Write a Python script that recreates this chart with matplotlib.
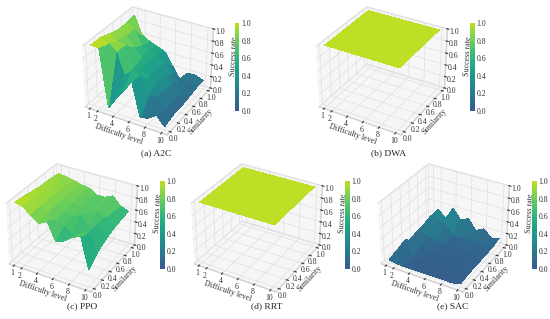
import matplotlib

matplotlib.use("Agg")
import matplotlib.pyplot as plt
import numpy as np
from matplotlib.cm import ScalarMappable
from matplotlib.colors import LinearSegmentedColormap, Normalize

plt.rcParams["font.family"] = ["Liberation Serif", "DejaVu Serif"]

# Axis values
difficulty = [1, 2, 3, 4, 5, 6, 7, 8, 9, 10]
similarity = [0.0, 0.2, 0.4, 0.6, 0.8, 1.0]
diff_ticks = [1, 2, 4, 6, 8, 10]
sim_ticks = [0.0, 0.2, 0.4, 0.6, 0.8, 1.0]
rate_ticks = [0.0, 0.2, 0.4, 0.6, 0.8, 1.0]

# Success rate, one row per similarity value
a2c = [[1.00, 1.00, 0.05, 0.25, 0.42, 0.62, 0.07, 0.10, 0.20, 0.05],
       [1.00, 0.95, 0.85, 0.50, 0.62, 0.60, 0.30, 0.30, 0.12, 0.10],
       [0.95, 0.85, 0.85, 0.50, 0.50, 0.40, 0.35, 0.30, 0.12, 0.10],
       [0.90, 0.85, 0.70, 0.55, 0.55, 0.45, 0.35, 0.30, 0.12, 0.12],
       [0.90, 0.85, 0.60, 0.55, 0.50, 0.40, 0.30, 0.10, 0.20, 0.15],
       [0.92, 0.62, 0.55, 0.50, 0.45, 0.25, 0.05, 0.20, 0.20, 0.15]]
dwa = [[1.0] * 10] * 6
ppo = [[1.00, 0.97, 0.87, 0.78, 0.85, 0.57, 0.62, 0.72, 0.78, 0.28],
       [0.98, 0.95, 0.88, 0.80, 0.75, 0.68, 0.60, 0.65, 0.72, 0.42],
       [0.95, 0.93, 0.88, 0.82, 0.75, 0.72, 0.78, 0.62, 0.70, 0.50],
       [0.93, 0.92, 0.88, 0.82, 0.78, 0.75, 0.72, 0.75, 0.70, 0.55],
       [0.92, 0.90, 0.87, 0.85, 0.80, 0.78, 0.72, 0.82, 0.68, 0.58],
       [0.90, 0.88, 0.85, 0.82, 0.80, 0.72, 0.72, 0.78, 0.65, 0.60]]
rrt = [[1.0] * 10] * 6
sac = [[0.05, 0.02, 0.02, 0.02, 0.02, 0.02, 0.02, 0.02, 0.02, 0.05],
       [0.10, 0.30, 0.04, 0.03, 0.03, 0.03, 0.03, 0.03, 0.03, 0.08],
       [0.08, 0.15, 0.12, 0.05, 0.06, 0.05, 0.05, 0.05, 0.05, 0.08],
       [0.10, 0.15, 0.12, 0.10, 0.06, 0.06, 0.05, 0.05, 0.06, 0.10],
       [0.12, 0.32, 0.30, 0.25, 0.10, 0.10, 0.12, 0.08, 0.06, 0.10],
       [0.08, 0.32, 0.20, 0.42, 0.25, 0.32, 0.15, 0.22, 0.10, 0.14]]

W, H = 550, 319
SIZE = 146
fig = plt.figure(figsize=(W / 100, H / 100), dpi=100)

# Viridis without its darkest and brightest ends
cmap = LinearSegmentedColormap.from_list("vir", plt.get_cmap("viridis")(np.linspace(0.28, 0.9, 256)))
norm = Normalize(0, 1)


def panel(z, title, x0, y0, cx, cy, bar_x):
    # x0, y0 = top left of the 3d axes in pixels, cx, cy = caption centre
    ax = fig.add_axes([x0 / W, 1 - (y0 + SIZE) / H, SIZE / W, SIZE / H], projection="3d")
    ax.patch.set_alpha(0)
    ax.view_init(elev=32, azim=-60)
    X, Y = np.meshgrid(difficulty, similarity)
    ax.plot_surface(X, Y, np.array(z), cmap=cmap, norm=norm, rstride=1, cstride=1, linewidth=0, antialiased=False)
    ax.set_zlim(0, 1)
    ax.set_xticks(diff_ticks)
    ax.set_yticks(sim_ticks)
    ax.set_zticks(rate_ticks)
    ax.set_xticklabels([str(t) for t in diff_ticks], fontsize=5.6)
    ax.set_yticklabels(["%.1f" % t for t in sim_ticks], fontsize=5.6)
    ax.set_zticklabels(["%.1f" % t for t in rate_ticks], fontsize=5.6)
    ax.tick_params(axis="x", pad=-6, colors="#333333")
    ax.tick_params(axis="y", pad=-6, colors="#333333")
    ax.tick_params(axis="z", pad=-5, colors="#333333")
    ax.set_xlabel("Difficulty level", fontsize=5.8, labelpad=-14, color="#333333")
    ax.set_ylabel("Similarity", fontsize=5.8, labelpad=-14, color="#333333")
    ax.set_zlabel("Success rate", fontsize=5.8, labelpad=-11, color="#333333")
    for axis in (ax.xaxis, ax.yaxis, ax.zaxis):
        axis.set_pane_color("#f6f6f6")
        axis.pane.set_edgecolor("#e4e4e4")
        axis.line.set_color("#d0d0d0")
        axis._axinfo["grid"].update(color="#e0e0e0", linewidth=0.5)

    cax = fig.add_axes([bar_x / W, 1 - 111 / H if y0 < 100 else 1 - 269 / H, 4.5 / W, 88 / H])
    cb = fig.colorbar(ScalarMappable(norm=norm, cmap=cmap), cax=cax, ticks=rate_ticks)
    cb.ax.tick_params(labelsize=5.6, length=0, pad=1.5, colors="#333333")
    cb.outline.set_visible(False)
    fig.text(cx / W, 1 - cy / H, title, fontsize=6.8, ha="center", va="center", color="#222222")


panel(a2c, "(a) A2C", 74, -3, 156, 153, 235)
panel(dwa, "(b) DWA", 308, -3, 389, 153, 470)
panel(ppo, "(c) PPO", -2, 154, 82, 306, 160)
panel(rrt, "(d) RRT", 183, 154, 267, 306, 345)
panel(sac, "(e) SAC", 370, 154, 453, 306, 532)

fig.savefig("out.png", dpi=100)
